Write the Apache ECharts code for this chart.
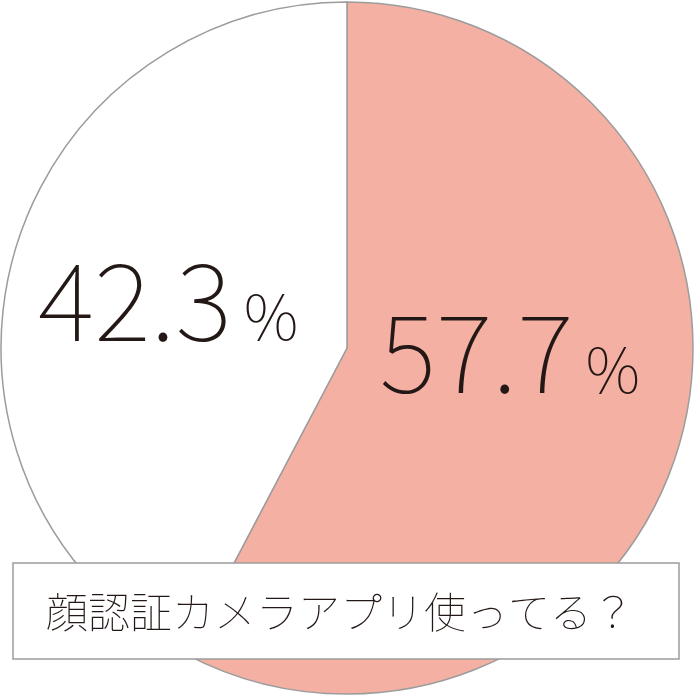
<!DOCTYPE html>
<html><head><meta charset="utf-8">
<script src="https://cdn.jsdelivr.net/npm/echarts@6/dist/echarts.min.js"></script>
<style>html,body{margin:0;padding:0;background:#fff}#c{width:694px;height:695px}</style>
</head><body><div id="c"></div>
<script>
const categories = ['使っている', '使っていない'];
const values = [57.7, 42.3];
const sliceColors = ['#f4b1a3', '#ffffff'];
const question = '顔認証カメラアプリ使ってる？';

const chart = echarts.init(document.getElementById('c'), null, {renderer: 'canvas'});
const labelShift = [[-8, -38], [-8, -6]];
chart.setOption({
  animation: false,
  backgroundColor: '#fff',
  series: [{
    type: 'pie',
    center: [347, 348],
    radius: [0, 346],
    startAngle: 90,
    clockwise: true,
    silent: true,
    data: categories.map((c, i) => ({
      name: c, value: values[i],
      itemStyle: {color: sliceColors[i], borderColor: '#9c9c9c', borderWidth: 1.5}
    })),
    label: {
      show: true,
      position: 'inside',
      formatter: p => '{v|' + p.value.toFixed(1) + '}{p|%}',
      rich: {
        v: {fontFamily: 'Noto Sans CJK JP', fontWeight: 100, fontSize: 108, color: '#231815', padding: [0, 12, 0, 0]},
        p: {fontFamily: 'Noto Sans CJK JP', fontWeight: 100, fontSize: 62, color: '#231815', verticalAlign: 'bottom', padding: [0, 0, 6, 0]}
      }
    },
    labelLine: {show: false},
    labelLayout: p => ({dx: labelShift[p.dataIndex][0], dy: labelShift[p.dataIndex][1]})
  }],
  graphic: [{
    type: 'rect',
    shape: {x: 13, y: 563, width: 666, height: 96},
    style: {fill: '#fff', stroke: '#9c9c9c', lineWidth: 1.5},
    z: 10
  }, {
    type: 'text',
    x: 340, y: 612,
    style: {text: question, fontFamily: 'Noto Sans CJK JP', fontWeight: 100, fontSize: 42, fill: '#231815', align: 'center', verticalAlign: 'middle'},
    z: 11
  }]
});
</script></body></html>
